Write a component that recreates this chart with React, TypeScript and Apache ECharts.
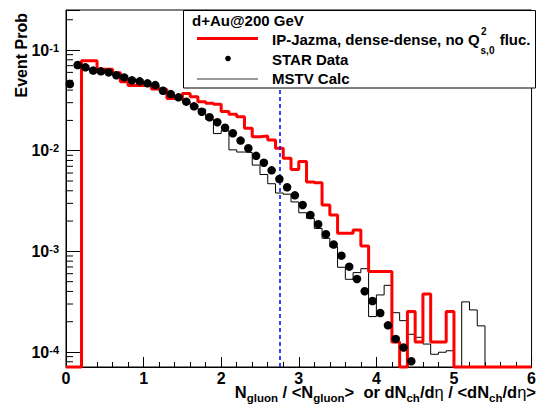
import React, { useEffect, useRef } from 'react';
import * as echarts from 'echarts';

const FONT = "'Liberation Sans', Arial, Helvetica, sans-serif";
const Y_MIN = 7.1e-5;
const Y_MAX = 0.25;
const BIN = 0.1;

// STAR Data points (bin centres and event probabilities)
const starX = [
  0.05, 0.15, 0.25, 0.35, 0.45, 0.55, 0.65, 0.75, 0.85, 0.95,
  1.05, 1.15, 1.25, 1.35, 1.45, 1.55, 1.65, 1.75, 1.85, 1.95,
  2.05, 2.15, 2.25, 2.35, 2.45, 2.55, 2.65, 2.75, 2.85, 2.95,
  3.05, 3.15, 3.25, 3.35, 3.45, 3.55, 3.65, 3.75, 3.85, 3.95,
  4.05, 4.15, 4.25, 4.35, 4.45,
];
const starValues = [
  0.0459, 0.0710, 0.0673, 0.0625, 0.0615, 0.0600, 0.0561, 0.0535, 0.0500, 0.0489,
  0.0467, 0.0449, 0.0394, 0.0365, 0.0339, 0.0307, 0.0276, 0.0244, 0.0215, 0.0192,
  0.0169, 0.0149, 0.0126, 0.01057, 0.0089, 0.0076, 0.00638, 0.00523, 0.00433, 0.0036,
  0.00289, 0.0023, 0.00186, 0.00148, 0.00117, 0.000906, 0.000705, 0.000532, 0.000402, 0.000321,
  0.000244, 0.000184, 0.000135, 0.000111, 0.000081,
];

// IP-Jazma histogram, bins of 0.1 starting at 0.0
const jazmaStart = 0.0;
const jazmaValues = [
  0, 0, 0.0783, 0.0783, 0.0643, 0.0643, 0.0596, 0.0484, 0.0444, 0.0444,
  0.0444, 0.0410, 0.0405, 0.0331, 0.0331, 0.0371, 0.0343, 0.0307, 0.0296, 0.0290,
  0.0245, 0.0230, 0.0218, 0.0167, 0.0138, 0.0140, 0.0128, 0.0106, 0.0084, 0.0065,
  0.0078, 0.0049, 0.0048, 0.00289, 0.0023, 0.00151, 0.00151, 0.00163, 0.00113, 0.00063,
  0.00063, 0.00063, 0.000126, 0, 0.000252, 0.000126, 0.000378, 0.000126, 0.000126, 0.000252,
  0, 0, 0, 0, 0, 0, 0, 0, 0, 0,
];

// MSTV Calc histogram, bins of 0.1 starting at 0.1
const mstvStart = 0.1;
const mstvValues = [
  0.0720, 0.0665, 0.0620, 0.0612, 0.0595, 0.0560, 0.0533, 0.0495, 0.0485, 0.0462,
  0.0445, 0.0395, 0.0362, 0.0335, 0.0305, 0.0284, 0.0258, 0.0205, 0.0148, 0.0158,
  0.0102, 0.0097, 0.0096, 0.0072, 0.0058, 0.0047, 0.0038, 0.0037, 0.0031, 0.00242,
  0.00213, 0.00169, 0.00135, 0.00111, 0.000695, 0.000528, 0.000615, 0.000673, 0.000225, 0.000369,
  0.00046, 0.000246, 0.000205, 0.00015, 0.00014, 0.00012, 0.000095, 0.0000995, 0.000103, 0,
  0.000315, 0.000262, 0.000182, 0, 0, 0, 0, 0, 0,
];

const refLineX = 2.76;
const xTickLabels = ['0', '1', '2', '3', '4', '5', '6'];
const yDecades = [-5, -4, -3, -2, -1];
const yMinorMultipliers = [2, 3, 4, 5, 6, 7, 8, 9];

function steps(start: number, values: number[]) {
  const pts: number[][] = [];
  values.forEach((v, i) => {
    const y = v > 0 ? v : Y_MIN;
    const x0 = +(start + i * BIN).toFixed(3);
    const x1 = +(start + (i + 1) * BIN).toFixed(3);
    pts.push([x0, y], [x1, y]);
  });
  return pts;
}

function measure(text: string, font: string) {
  const ctx = document.createElement('canvas').getContext('2d');
  if (!ctx) return text.length * 8;
  ctx.font = font;
  return ctx.measureText(text).width;
}

export default function App() {
  const ref = useRef<HTMLDivElement>(null);

  useEffect(() => {
    if (!ref.current) return;
    const chart = echarts.init(ref.current, undefined, { renderer: 'svg' });

    const minorTicks: number[][] = [];
    yDecades.forEach((d) => {
      yMinorMultipliers.forEach((k) => {
        const v = k * Math.pow(10, d);
        if (v > Y_MIN && v < Y_MAX) minorTicks.push([0, v]);
      });
    });

    const legMain = 'IP-Jazma, dense-dense, no Q';
    const legFont = `bold 15px ${FONT}`;
    const wMain = measure(legMain, legFont);
    const wSub = measure('s,0', `bold 10px ${FONT}`);
    const legX = 272;

    const titleRich = {
      n: { fontFamily: FONT, fontSize: 16.5, fontWeight: 'bold', lineHeight: 16, verticalAlign: 'top', fill: '#000' },
      g: { fontFamily: FONT, fontSize: 16.5, fontWeight: 'normal', lineHeight: 16, verticalAlign: 'top', fill: '#000' },
      s: { fontFamily: FONT, fontSize: 11.5, fontWeight: 'bold', lineHeight: 11, padding: [9, 0, 0, 0], verticalAlign: 'top', fill: '#000' },
    };

    const option: any = {
      animation: false,
      backgroundColor: '#fff',
      grid: {
        left: 66, right: 3, top: 10, bottom: 40,
        show: true, borderColor: '#000', borderWidth: 1, backgroundColor: 'transparent',
      },
      xAxis: {
        type: 'value', min: 0, max: 6, interval: 1,
        axisLine: { show: true, onZero: false, lineStyle: { color: '#000', width: 1 } },
        axisTick: { show: true, inside: true, length: 10, lineStyle: { color: '#000', width: 1 } },
        minorTick: { show: true, splitNumber: 5, length: 5, lineStyle: { color: '#000', width: 1 } },
        splitLine: { show: false },
        minorSplitLine: { show: false },
        axisLabel: {
          color: '#000', fontFamily: FONT, fontWeight: 'bold', fontSize: 16, margin: 3,
          formatter: (v: number) => xTickLabels[Math.round(v)] ?? '',
        },
      },
      yAxis: {
        type: 'log', logBase: 10, min: Y_MIN, max: Y_MAX,
        axisLine: { show: true, onZero: false, lineStyle: { color: '#000', width: 1 } },
        axisTick: { show: true, inside: true, length: 14, lineStyle: { color: '#000', width: 1 } },
        splitLine: { show: false },
        axisLabel: {
          margin: 7,
          formatter: (v: number) => {
            const e = Math.log10(v);
            const r = Math.round(e);
            if (Math.abs(e - r) > 1e-6) return '';
            return `{b|10}{s|${r}}`;
          },
          rich: {
            b: { fontFamily: FONT, fontSize: 16, fontWeight: 'bold', color: '#000', lineHeight: 16, verticalAlign: 'bottom' },
            s: { fontFamily: FONT, fontSize: 11, fontWeight: 'bold', color: '#000', lineHeight: 11, padding: [0, 0, 8, 0], verticalAlign: 'top' },
          },
        },
      },
      series: [
        {
          type: 'custom',
          name: 'minorTicks',
          coordinateSystem: 'cartesian2d',
          silent: true,
          clip: false,
          data: minorTicks,
          renderItem: (_p: any, api: any) => {
            const pt = api.coord([0, api.value(1)]);
            return {
              type: 'line',
              shape: { x1: pt[0], y1: pt[1], x2: pt[0] + 7, y2: pt[1] },
              style: { stroke: '#000', lineWidth: 1 },
            };
          },
        },
        {
          type: 'line',
          name: 'MSTV Calc',
          data: steps(mstvStart, mstvValues),
          showSymbol: false,
          symbol: 'none',
          clip: false,
          lineStyle: { color: '#000', width: 1 },
          z: 3,
        },
        {
          type: 'line',
          name: 'IP-Jazma',
          data: steps(jazmaStart, jazmaValues),
          showSymbol: false,
          symbol: 'none',
          clip: false,
          lineStyle: { color: '#ff0000', width: 3 },
          z: 4,
        },
        {
          type: 'scatter',
          name: 'STAR Data',
          data: starX.map((x, i) => [x, starValues[i]]),
          symbol: 'circle',
          symbolSize: 8.5,
          itemStyle: { color: '#000', opacity: 1 },
          z: 5,
          markLine: {
            silent: true,
            symbol: ['none', 'none'],
            label: { show: false },
            lineStyle: { color: '#0000ff', width: 1.5, type: [4, 3], opacity: 1 },
            data: [{ xAxis: refLineX }],
          },
        },
      ],
      graphic: [
        {
          type: 'text', x: 21, y: 13, rotation: Math.PI / 2, z: 100,
          style: { text: 'Event Prob', fontFamily: FONT, fontSize: 16, fontWeight: 'bold', fill: '#000', align: 'right', verticalAlign: 'middle' },
        },
        {
          type: 'text', x: 536, y: 383, z: 100,
          style: {
            text: '{n|N}{s|gluon}{n| / <N}{s|gluon}{n|>  or dN}{s|ch}{n|/d}{g|η}{n| / <dN}{s|ch}{n|/d}{g|η}{n|>}',
            rich: titleRich, align: 'right', verticalAlign: 'top',
          },
        },
        {
          type: 'rect', z: 100,
          shape: { x: 183.5, y: 10.5, width: 352, height: 77.5 },
          style: { fill: '#fff', stroke: '#000', lineWidth: 1 },
        },
        {
          type: 'text', x: 192, y: 20, z: 101,
          style: { text: 'd+Au@200 GeV', fontFamily: FONT, fontSize: 15, fontWeight: 'bold', fill: '#000', align: 'left', verticalAlign: 'middle' },
        },
        {
          type: 'line', z: 101,
          shape: { x1: 197, y1: 38.5, x2: 258, y2: 38.5 },
          style: { stroke: '#ff0000', lineWidth: 3 },
        },
        {
          type: 'text', x: legX, y: 39.5, z: 101,
          style: { text: legMain, fontFamily: FONT, fontSize: 15, fontWeight: 'bold', fill: '#000', align: 'left', verticalAlign: 'middle' },
        },
        {
          type: 'text', x: legX + wMain + 1.5, y: 31.5, z: 101,
          style: { text: '2', fontFamily: FONT, fontSize: 10, fontWeight: 'bold', fill: '#000', align: 'left', verticalAlign: 'middle' },
        },
        {
          type: 'text', x: legX + wMain + 1, y: 50.5, z: 101,
          style: { text: 's,0', fontFamily: FONT, fontSize: 10, fontWeight: 'bold', fill: '#000', align: 'left', verticalAlign: 'middle' },
        },
        {
          type: 'text', x: legX + wMain + wSub + 2, y: 39.5, z: 101,
          style: { text: ' fluc.', fontFamily: FONT, fontSize: 15, fontWeight: 'bold', fill: '#000', align: 'left', verticalAlign: 'middle' },
        },
        {
          type: 'circle', z: 101,
          shape: { cx: 228, cy: 58.5, r: 2.8 },
          style: { fill: '#000' },
        },
        {
          type: 'text', x: legX, y: 59, z: 101,
          style: { text: 'STAR Data', fontFamily: FONT, fontSize: 15, fontWeight: 'bold', fill: '#000', align: 'left', verticalAlign: 'middle' },
        },
        {
          type: 'line', z: 101,
          shape: { x1: 197, y1: 79, x2: 258, y2: 79 },
          style: { stroke: '#333', lineWidth: 1 },
        },
        {
          type: 'text', x: legX, y: 78.5, z: 101,
          style: { text: 'MSTV Calc', fontFamily: FONT, fontSize: 15, fontWeight: 'bold', fill: '#000', align: 'left', verticalAlign: 'middle' },
        },
      ],
    };

    chart.setOption(option);
    return () => chart.dispose();
  }, []);

  return (
    <div
      ref={ref}
      style={{ position: 'absolute', left: 0, top: 0, width: 539, height: 407, background: '#fff' }}
    />
  );
}
